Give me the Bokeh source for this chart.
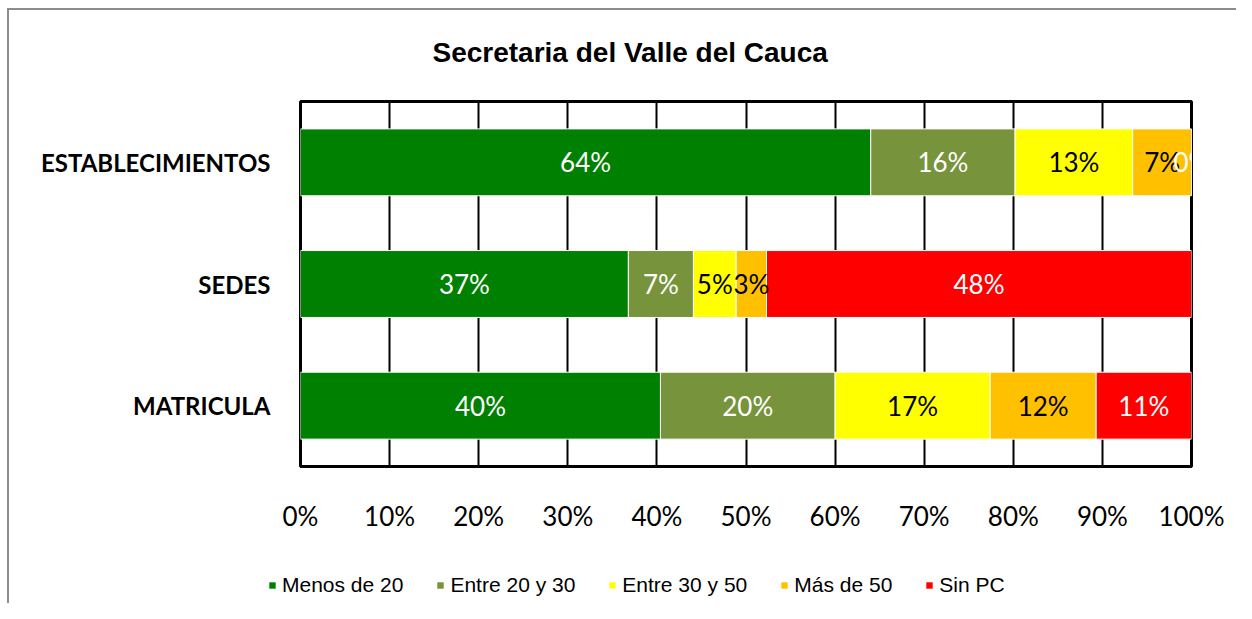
from bokeh.plotting import figure
from bokeh.layouts import column
from bokeh.models import (ColumnDataSource, FactorRange, Range1d, FixedTicker,
                          NumeralTickFormatter, Legend, LegendItem, InlineStyleSheet)
from bokeh.core.properties import value
from bokeh.embed import file_html
from bokeh.resources import INLINE

# ---- data ----
title_text = "Secretaria del Valle del Cauca"
categories = ["MATRICULA", "SEDES", "ESTABLECIMIENTOS"]  # bottom to top
series_names = ["Menos de 20", "Entre 20 y 30", "Entre 30 y 50", "Más de 50", "Sin PC"]
menos_20 = [40.4, 36.8, 64.0]
entre_20_30 = [19.6, 7.3, 16.2]
entre_30_50 = [17.4, 4.8, 13.2]
mas_50 = [11.9, 3.4, 6.6]
sin_pc = [10.7, 47.7, 0.0]
x_ticks = [0, 10, 20, 30, 40, 50, 60, 70, 80, 90, 100]

colors = ["#008000", "#77933C", "#FFFF00", "#FFC000", "#FF0000"]
label_colors = ["white", "white", "black", "black", "white"]

series = [menos_20, entre_20_30, entre_30_50, mas_50, sin_pc]
keys = ["s0", "s1", "s2", "s3", "s4"]

data = {"cat": categories}
for k, s in zip(keys, series):
    data[k] = [v / 100.0 for v in s]
source = ColumnDataSource(data)

W = 1236
H1, H2 = 540, 63
ML, MR, MT, MB = 300, 45, 101, 74

p = figure(width=W, height=H1, y_range=FactorRange(factors=categories),
           x_range=Range1d(0, 1), output_backend="svg", toolbar_location=None,
           min_border_left=ML, min_border_right=MR, min_border_top=MT,
           min_border_bottom=MB, title=title_text)
p.frame_align = False
p.background_fill_color = "white"
p.border_fill_color = "white"
p.outline_line_color = "black"
p.outline_line_width = 3

# title
p.title.align = "left"
p.title.offset = 132
p.title.vertical_align = "middle"
p.title.standoff = 66
p.title.text_font = "Liberation Sans"
p.title.text_font_style = "bold"
p.title.text_font_size = "28px"
p.title.text_color = "black"

renderers = p.hbar_stack(keys, y="cat", height=0.55, color=colors,
                         line_color="white", line_width=1, source=source)

# value labels
lx, ly, lt, lc = [], [], [], []
for ci, cat in enumerate(categories):
    cum = 0.0
    for si, s in enumerate(series):
        v = s[ci]
        lx.append((cum + v / 2.0) / 100.0)
        ly.append(cat)
        lt.append("%d%%" % int(round(v)))
        lc.append(label_colors[si])
        cum += v
lsrc = ColumnDataSource(dict(x=lx, y=ly, t=lt, c=lc))
p.text(x="x", y="y", text="t", text_color="c", source=lsrc,
       text_font=value("Lato"), text_font_size=value("26px"),
       text_align="center", text_baseline="middle")

# axes
p.xaxis.ticker = FixedTicker(ticks=[t / 100.0 for t in x_ticks])
p.xaxis.formatter = NumeralTickFormatter(format="0%")
p.xaxis.axis_line_color = None
p.xaxis.major_tick_line_color = None
p.xaxis.minor_tick_line_color = None
p.xaxis.major_label_text_font = "Lato"
p.xaxis.major_label_text_font_size = "26px"
p.xaxis.major_label_text_color = "black"
p.xaxis.major_label_standoff = 27

p.yaxis.axis_line_color = None
p.yaxis.major_tick_line_color = None
p.yaxis.minor_tick_line_color = None
p.yaxis.major_label_text_font = "Lato"
p.yaxis.major_label_text_font_style = "bold"
p.yaxis.major_label_text_font_size = "24px"
p.yaxis.major_label_text_color = "black"
p.yaxis.major_label_standoff = 24

p.xgrid.ticker = FixedTicker(ticks=[t / 100.0 for t in x_ticks])
p.xgrid.grid_line_color = "black"
p.xgrid.grid_line_width = 2
p.ygrid.grid_line_color = None

p.stylesheets = [InlineStyleSheet(css="""
:host::after {
  content: ""; position: absolute; left: 7px; top: 8px;
  width: calc(100% - 7px); height: calc(100% - 8px);
  border-left: 2px solid #8c8c8c; border-top: 2px solid #8c8c8c;
  box-sizing: border-box; pointer-events: none; z-index: 10;
}
""")]

# ---- legend strip (separate figure below the chart) ----
# zero-height bars: nothing shows in the strip except the legend itself
p2 = figure(width=W, height=H2, x_range=Range1d(10, 20),
            y_range=FactorRange(factors=categories),
            output_backend="svg", toolbar_location=None,
            min_border_left=0, min_border_right=0, min_border_top=0, min_border_bottom=0,
            x_axis_type=None, y_axis_type=None)
p2.frame_align = False
p2.outline_line_color = None
p2.grid.grid_line_color = None
p2.background_fill_color = "white"
p2.border_fill_color = "white"

items = []
for name, k, col in zip(series_names, keys, colors):
    r = p2.hbar(y="cat", right=k, left=0, height=0, fill_color=col,
                line_color=None, source=source)
    items.append(LegendItem(label=name, renderers=[r]))
legend = Legend(items=items, orientation="horizontal", location=(268, 6),
                padding=0, margin=0, spacing=33, glyph_width=8, glyph_height=8,
                label_standoff=6, label_text_font="Liberation Sans",
                label_text_font_size="21px", label_text_color="black",
                border_line_color=None, background_fill_alpha=0)
p2.add_layout(legend, "center")
p2.stylesheets = [InlineStyleSheet(css="""
:host::after {
  content: ""; position: absolute; left: 7px; top: 0px;
  width: calc(100% - 7px); height: 100%;
  border-left: 2px solid #8c8c8c;
  box-sizing: border-box; pointer-events: none; z-index: 10;
}
""")]

layout = column(p, p2, spacing=0)
open("out.html", "w").write(file_html(layout, INLINE))
